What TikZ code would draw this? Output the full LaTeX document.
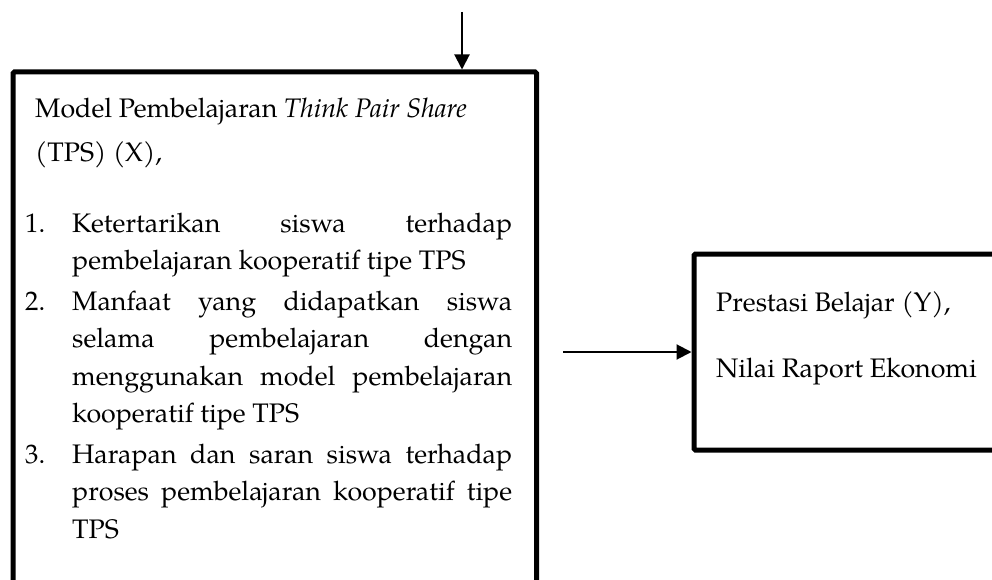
\documentclass[tikz,border=0pt]{standalone}
\usepackage{fontspec}
\setmainfont{TeX Gyre Pagella}
\usetikzlibrary{arrows.meta}
\begin{document}
\begin{tikzpicture}[x=1pt,y=-1pt,
  box/.style={draw, line width=5pt, rounded corners=1.5pt, rectangle, inner sep=0pt},
  txt/.style={anchor=base west, inner sep=0pt, font=\fontsize{26.8}{32}\selectfont},
  arr/.style={line width=2pt, -{Triangle[length=15pt,width=15pt]}}]
\useasboundingbox (0,0) rectangle (992,580);
% boxes
\node[box, minimum width=523.5pt, minimum height=568pt] (tps) at (274.75,356) {};
\node[box, minimum width=356pt, minimum height=196pt] (res) at (872,352) {};
% connectors
\coordinate (src) at (462,12);
\draw[arr] (src) -- (src |- tps.north);
\coordinate (mid) at (563,352);
\draw[arr] (mid) -- (mid -| res.west);
% left box text
\node[txt] (h1) at (35,118) {Model Pembelajaran \textit{Think Pair Share}};
\node[txt] (h2) at (35,161) {(TPS) (X),};
\node[txt] (n1) at (25,232) {1.};
\node[txt] (a1) at (72,232) {\hbox to 440pt{Ketertarikan\hfill siswa\hfill terhadap}};
\node[txt] (a2) at (72,269.5) {pembelajaran kooperatif tipe TPS};
\node[txt] (n2) at (25,310) {2.};
\node[txt] (b1) at (72,310) {\hbox to 440pt{Manfaat\hfill yang\hfill didapatkan\hfill siswa}};
\node[txt] (b2) at (72,347.5) {\hbox to 440pt{selama\hfill pembelajaran\hfill dengan}};
\node[txt] (b3) at (72,385) {\hbox to 440pt{menggunakan\hfill model\hfill pembelajaran}};
\node[txt] (b4) at (72,422.5) {kooperatif tipe TPS};
\node[txt] (n3) at (25,463) {3.};
\node[txt] (c1) at (72,463) {\hbox to 440pt{Harapan\hfill dan\hfill saran\hfill siswa\hfill terhadap}};
\node[txt] (c2) at (72,500.5) {\hbox to 440pt{proses\hfill pembelajaran\hfill kooperatif\hfill tipe}};
\node[txt] (c3) at (72,538) {TPS};
% right box text
\node[txt] (r1) at (716,311) {Prestasi Belajar (Y),};
\node[txt] (r2) at (716,377) {Nilai Raport Ekonomi};
\end{tikzpicture}
\end{document}
